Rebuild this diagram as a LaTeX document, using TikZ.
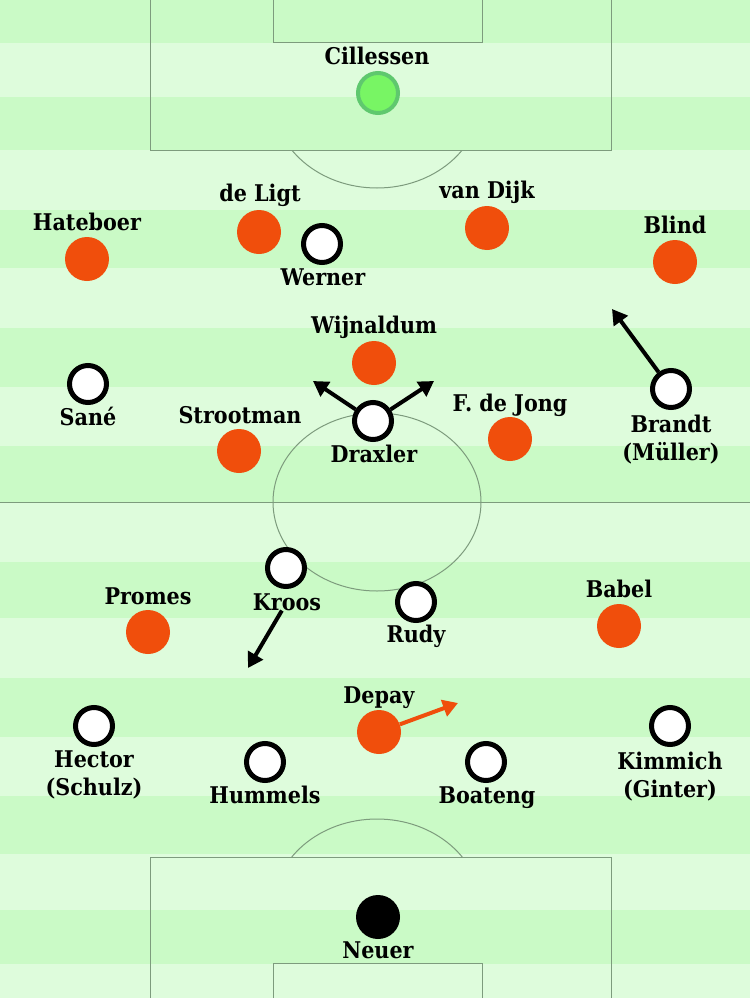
\documentclass[tikz,border=0pt]{standalone}
\usepackage{fontspec}
\setmainfont{DejaVuSerifCondensed}[Extension=.ttf,BoldFont=DejaVuSerifCondensed-Bold]
\usetikzlibrary{arrows.meta}
\definecolor{pitchdark}{RGB}{202,250,198}
\definecolor{pitchlight}{RGB}{222,252,220}
\definecolor{pitchline}{RGB}{125,155,125}
\definecolor{nlorange}{RGB}{240,78,12}
\definecolor{gkgreen}{RGB}{120,245,100}
\definecolor{gkring}{RGB}{95,200,110}

\begin{document}
\begin{tikzpicture}[
  x=1pt,y=-1pt,
  nlman/.style={circle,fill=nlorange,minimum size=44pt,inner sep=0pt},
  deman/.style={circle,fill=white,draw=black,line width=5pt,minimum size=37pt,inner sep=0pt},
  plabel/.style={font=\bfseries\fontsize{23}{28}\selectfont,align=center,anchor=base,inner sep=0pt},
  runarrow/.style={draw,line width=4pt,-{Triangle[length=15pt,width=17pt]}}
  ]
  \clip (0,0) rectangle (750,998);
  \foreach \ya/\yb/\col in {0/43/pitchdark,43/97/pitchlight,97/150/pitchdark,150/210/pitchlight,
    210/268/pitchdark,268/328/pitchlight,328/387/pitchdark,387/446/pitchlight,446/502/pitchdark,
    502/562/pitchlight,562/618/pitchdark,618/678/pitchlight,678/737/pitchdark,737/796/pitchlight,
    796/854/pitchdark,854/910/pitchlight,910/964/pitchdark,964/998/pitchlight}
    \fill[\col] (0,\ya) rectangle (750,\yb);

  \begin{scope}[pitchline,line width=1pt]
    \draw (150,-5) rectangle (611,150);
    \draw (273,-5) rectangle (482,43);
    \draw (150,857) rectangle (611,1005);
    \draw (273,963) rectangle (482,1005);
    \draw (0,502) -- (750,502);
    \draw (377,502) ellipse [x radius=104,y radius=89];
    \begin{scope}
      \clip (0,150) rectangle (750,300);
      \draw (377,99) ellipse [x radius=104,y radius=89];
    \end{scope}
    \begin{scope}
      \clip (0,700) rectangle (750,857);
      \draw (377,908) ellipse [x radius=104,y radius=89];
    \end{scope}
  \end{scope}

  \node[circle,fill=gkgreen,draw=gkring,line width=4pt,minimum size=40pt,inner sep=0pt] (NCillessen) at (378,93) {};
  \node[nlman] (NHateboer) at (87,259) {};
  \node[nlman] (NDeLigt) at (259,232) {};
  \node[nlman] (NVanDijk) at (487,228) {};
  \node[nlman] (NBlind) at (675,262) {};
  \node[nlman] (NWijnaldum) at (374,363) {};
  \node[nlman] (NStrootman) at (239,451) {};
  \node[nlman] (NFdeJong) at (510,439) {};
  \node[nlman] (NPromes) at (148,632) {};
  \node[nlman] (NBabel) at (619,626) {};
  \node[nlman] (NDepay) at (379,732) {};

  \node[deman] (NWerner) at (322,244) {};
  \node[deman] (NSane) at (88,384) {};
  \node[deman] (NDraxler) at (373,421) {};
  \node[deman] (NBrandt) at (671,389) {};
  \node[deman] (NKroos) at (286,568) {};
  \node[deman] (NRudy) at (416,602) {};
  \node[deman] (NHector) at (94,726) {};
  \node[deman] (NHummels) at (265,762) {};
  \node[deman] (NBoateng) at (486,762) {};
  \node[deman] (NKimmich) at (670,726) {};
  \node[circle,fill=black,minimum size=44pt,inner sep=0pt] (NNeuer) at (378,917) {};

  \node[plabel] (NCillessenL) at (377,64) {Cillessen};
  \node[plabel] (NHateboerL) at (87,230) {Hateboer};
  \node[plabel] (NDeLigtL) at (260,201) {de Ligt};
  \node[plabel] (NVanDijkL) at (487,198) {van Dijk};
  \node[plabel] (NBlindL) at (675,233) {Blind};
  \node[plabel] (NWernerL) at (323,285) {Werner};
  \node[plabel] (NWijnaldumL) at (374,333) {Wijnaldum};
  \node[plabel] (NSaneL) at (88,425) {Sané};
  \node[plabel] (NStrootmanL) at (240,423) {Strootman};
  \node[plabel] (NDraxlerL) at (374,462) {Draxler};
  \node[plabel] (NFdeJongL) at (510,411) {F. de Jong};
  \node[plabel] (NBrandtL) at (671,460) {Brandt\\(Müller)};
  \node[plabel] (NPromesL) at (148,604) {Promes};
  \node[plabel] (NKroosL) at (287,610) {Kroos};
  \node[plabel] (NRudyL) at (416,642) {Rudy};
  \node[plabel] (NBabelL) at (619,597) {Babel};
  \node[plabel] (NDepayL) at (379,703) {Depay};
  \node[plabel] (NHectorL) at (94,795) {Hector\\(Schulz)};
  \node[plabel] (NHummelsL) at (265,803) {Hummels};
  \node[plabel] (NBoatengL) at (487,803) {Boateng};
  \node[plabel] (NKimmichL) at (670,797) {Kimmich\\(Ginter)};
  \node[plabel] (NNeuerL) at (378,958) {Neuer};

  \coordinate (CDraxlerL) at (313,381);
  \coordinate (CDraxlerR) at (434,381);
  \coordinate (CBrandt) at (612,309);
  \coordinate (CKroos) at (248,668);
  \coordinate (CDepay) at (458,703);

  \path[runarrow,black]
  (NDraxler) edge (CDraxlerL)
  (NDraxler) edge (CDraxlerR)
  (NBrandt)  edge (CBrandt)
  (NKroosL)  edge (CKroos)
  ;
  \path[runarrow,nlorange]
  (NDepay) edge (CDepay);
\end{tikzpicture}
\end{document}
